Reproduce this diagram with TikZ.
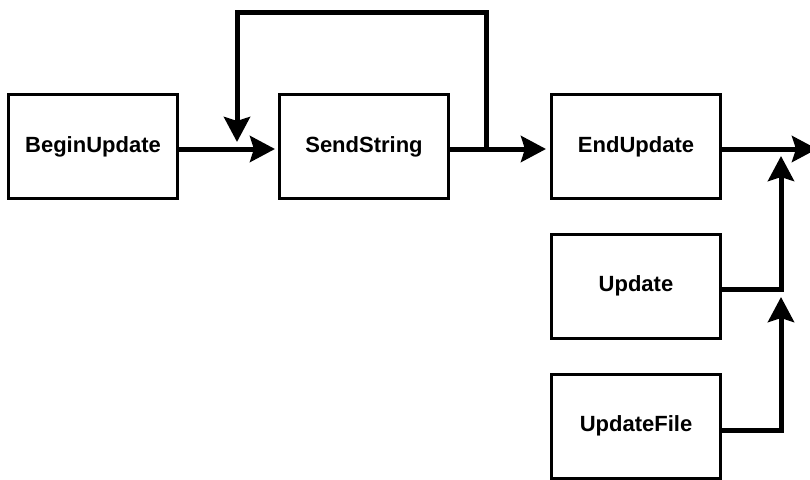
\documentclass[tikz,border=0pt]{standalone}
\usepackage{fontspec}
\setmainfont{Liberation Sans}
\usetikzlibrary{arrows.meta}
\begin{document}
\begin{tikzpicture}[x=1pt,y=-1pt,
  stepbox/.style={draw,line width=3pt,rectangle,minimum width=169pt,minimum height=104pt,
    inner sep=0pt,font=\fontsize{22}{24}\selectfont\bfseries},
  flow/.style={line width=5pt,-{Stealth[length=25pt,width=26pt,inset=4pt]}},
  plain/.style={line width=5pt}]
  \useasboundingbox (0,0) rectangle (810,479);
  % Main chain of calls
  \node[stepbox] (begin) at (93,146.5) {BeginUpdate};
  \node[stepbox] (send)  at (364,146.5) {SendString};
  \node[stepbox] (end)   at (636,146.5) {EndUpdate};
  \node[stepbox] (upd)   at (636,286) {Update};
  \node[stepbox] (file)  at (636,426) {UpdateFile};
  % Branch points and outside end
  \coordinate (split) at (486.5,149);
  \coordinate (out) at (817,149);
  \coordinate (join) at (781,149);
  \draw[flow,shorten >=3pt] (begin.east |- 0,149) -- (send.west |- 0,149);
  \draw[flow,shorten >=4pt] (send.east |- 0,149) -- (end.west |- 0,149);
  \draw[flow] (end.east |- 0,149) -- (out);
  % Repeat loop back to SendString
  \draw[flow,rounded corners=0pt] (split) -- (486.5,12.5) -- (237,12.5) -- (237,142);
  % Update and UpdateFile feed into the output
  \draw[flow] (upd.east |- 0,289) -| (781,156);
  \draw[flow] (file.east |- 0,430) -| (781,297);
\end{tikzpicture}
\end{document}
